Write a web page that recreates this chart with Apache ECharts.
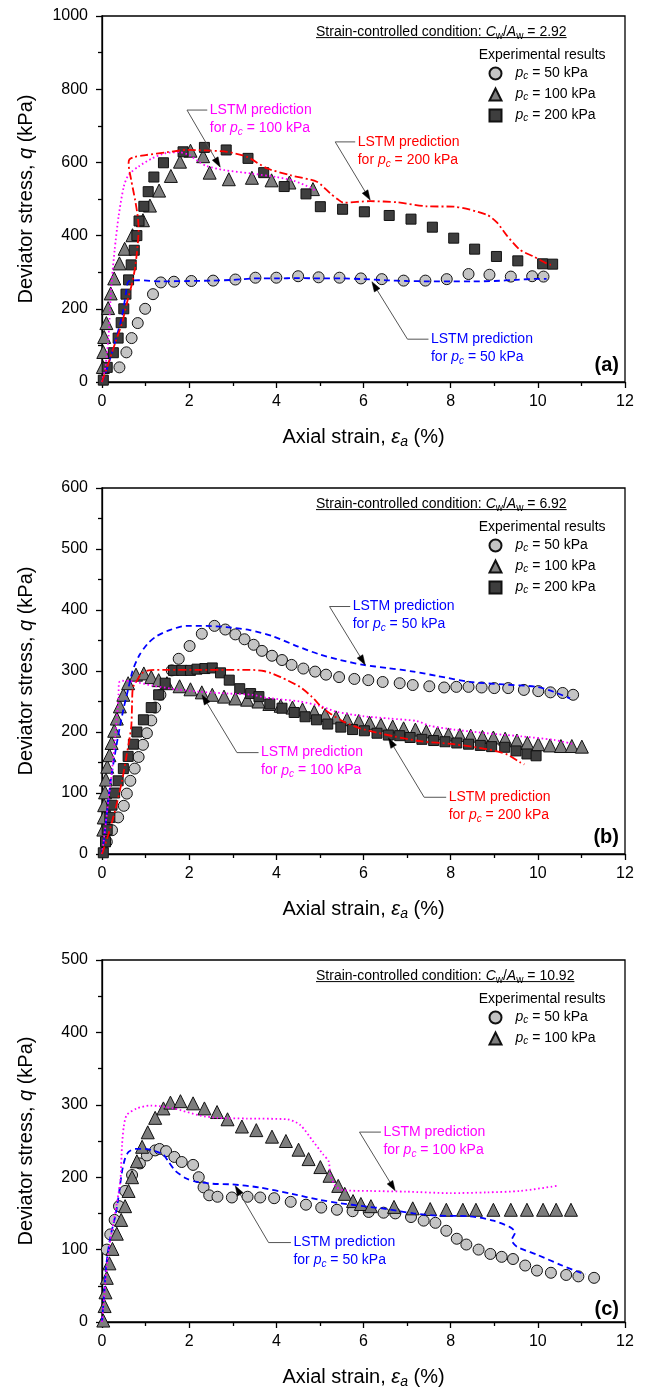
<!DOCTYPE html>
<html>
<head>
<meta charset="utf-8">
<script src="https://cdn.jsdelivr.net/npm/echarts@6/dist/echarts.min.js"></script>
<style>
  html, body { margin: 0; padding: 0; background: #fff; }
  #chart { width: 646px; height: 1390px; }
</style>
</head>
<body>
<div id="chart"></div>
<script>
// ---------------- Data: axial strain (%) vs deviator stress (kPa) ----------------
const strainRange = [0, 12, 2];
const stressRanges = [[0, 1000, 200], [0, 600, 100], [0, 500, 100]];
const ratioLabels = ['2.92', '6.92', '10.92'];
const panelTags = ['(a)', '(b)', '(c)'];

// (a) Cw/Aw = 2.92
const aExp50 = [[0.40,40],[0.56,81],[0.68,120],[0.82,161],[0.99,200],[1.17,240],[1.35,272],[1.65,274],[2.05,276],[2.55,277],[3.06,280],[3.52,285],[4.0,285],[4.5,289],[4.97,286],[5.45,285],[5.94,283],[6.42,281],[6.92,277],[7.42,277],[7.91,281],[8.41,295],[8.89,293],[9.38,288],[9.87,289],[10.13,288]];
const aExp100 = [[0.02,41],[0.03,82],[0.05,123],[0.1,161],[0.14,202],[0.2,242],[0.28,283],[0.4,324],[0.52,364],[0.7,401],[0.94,442],[1.1,482],[1.31,523],[1.58,563],[1.79,602],[2.03,632],[2.32,617],[2.47,572],[2.91,554],[3.44,558],[3.89,551],[4.30,545],[4.84,527]];
const aExp200 = [[0.03,5],[0.12,40],[0.26,80],[0.37,120],[0.44,162],[0.5,200],[0.55,240],[0.61,279],[0.67,320],[0.74,360],[0.8,400],[0.85,440],[0.96,480],[1.06,520],[1.19,560],[1.41,599],[1.86,629],[2.35,641],[2.85,634],[3.35,611],[3.71,572],[4.18,534],[4.68,514],[5.01,479],[5.52,472],[6.02,465],[6.59,455],[7.09,445],[7.58,423],[8.07,393],[8.55,363],[9.05,343],[9.54,331],[10.11,323],[10.34,322]];
const aLstm50 = [[0,0],[0.08,24],[0.27,97],[0.46,179],[0.55,243],[0.61,275],[0.84,278],[1.37,275],[2.0,276],[2.5,277],[3.0,279],[3.5,283],[4.0,283],[4.5,284],[5.0,283],[5.5,283],[6.0,281],[6.5,278],[7.0,276],[7.5,275],[8.0,275],[8.5,275],[9.0,276],[9.5,279],[10.0,282],[10.2,282]];
const aLstm100 = [[0,0],[0.08,43],[0.15,125],[0.19,215],[0.23,285],[0.29,361],[0.38,452],[0.5,534],[0.61,566],[0.84,589],[1.15,611],[1.45,625],[1.76,628],[2.0,620],[2.22,602],[2.4,590],[2.8,579],[3.4,570],[4.0,560],[4.4,550],[4.8,530],[4.9,522]];
const aLstm200 = [[0,0],[0.15,52],[0.3,106],[0.46,161],[0.57,215],[0.69,270],[0.75,306],[0.8,352],[0.84,416],[0.82,452],[0.76,497],[0.67,552],[0.61,597],[0.63,608],[0.75,615],[1.0,620],[1.5,628],[1.95,634],[2.5,632],[2.87,629],[3.33,615],[3.78,584],[4.32,565],[4.93,547],[5.24,515],[5.4,500],[5.54,490],[6.15,494],[6.77,491],[7.45,480],[8.07,479],[8.83,457],[9.06,436],[9.29,400],[9.59,361],[9.9,343],[10.2,324],[10.3,320]];

// (b) Cw/Aw = 6.92
const bExp50 = [[0.11,20],[0.23,39],[0.37,60],[0.5,79],[0.57,99],[0.65,120],[0.75,140],[0.84,159],[0.94,179],[1.03,198],[1.13,219],[1.22,240],[1.34,261],[1.6,301],[1.76,320],[2.01,341],[2.29,361],[2.58,374],[2.83,368],[3.06,360],[3.27,352],[3.48,343],[3.67,333],[3.9,325],[4.13,318],[4.35,310],[4.62,304],[4.89,299],[5.14,294],[5.44,290],[5.79,287],[6.11,285],[6.44,282],[6.83,280],[7.13,277],[7.51,275],[7.85,273],[8.13,274],[8.41,274],[8.71,273],[9.0,272],[9.32,272],[9.68,269],[10.01,267],[10.29,265],[10.57,264],[10.81,261]];
const bExp100 = [[0.03,40],[0.04,60],[0.05,80],[0.07,101],[0.09,122],[0.12,143],[0.17,162],[0.22,182],[0.28,202],[0.34,222],[0.41,242],[0.49,261],[0.6,280],[0.78,294],[0.96,296],[1.13,290],[1.3,285],[1.49,280],[1.78,275],[2.03,270],[2.29,265],[2.53,261],[2.8,258],[3.06,255],[3.33,253],[3.59,250],[3.84,246],[4.1,243],[4.37,240],[4.6,237],[4.87,233],[5.12,228],[5.37,224],[5.62,221],[5.89,218],[6.14,215],[6.4,212],[6.67,209],[6.92,206],[7.19,204],[7.44,201],[7.7,198],[7.95,196],[8.21,195],[8.46,194],[8.73,192],[8.98,191],[9.25,189],[9.52,186],[9.76,182],[10.01,180],[10.28,178],[10.53,177],[10.78,177],[11.01,176]];
const bExp200 = [[0.03,2],[0.08,20],[0.12,40],[0.18,60],[0.23,80],[0.29,100],[0.37,120],[0.49,140],[0.6,160],[0.72,180],[0.8,200],[0.95,220],[1.13,240],[1.3,261],[1.45,280],[1.64,301],[1.83,301],[2.03,301],[2.18,303],[2.36,304],[2.53,305],[2.72,297],[2.92,285],[3.16,271],[3.41,263],[3.6,258],[3.85,246],[4.13,239],[4.41,232],[4.66,225],[4.92,220],[5.18,213],[5.48,208],[5.75,204],[6.02,202],[6.31,198],[6.57,195],[6.83,194],[7.07,191],[7.34,188],[7.61,186],[7.87,184],[8.14,182],[8.41,180],[8.68,178],[8.94,176],[9.24,175],[9.5,169],[9.75,164],[9.96,161]];
const bLstm50 = [[0,0],[0.04,20],[0.1,60],[0.2,120],[0.3,165],[0.4,205],[0.5,240],[0.6,270],[0.7,300],[0.85,325],[1.05,345],[1.25,357],[1.55,367],[1.93,374],[2.39,374],[2.85,372],[3.39,367],[3.92,357],[4.5,340],[5.0,327],[5.47,318],[6.0,310],[6.54,305],[7.15,299],[7.68,292],[8.45,282],[9.21,278],[9.98,274],[10.36,266],[10.74,255]];
const bLstm100 = [[0,0],[0.07,40],[0.15,90],[0.22,130],[0.3,190],[0.36,240],[0.38,262],[0.39,281],[0.46,284],[0.69,283],[1.17,276],[1.7,270],[2.24,266],[2.9,263],[3.44,261],[3.78,256],[4.54,250],[4.99,243],[5.39,233],[5.98,226],[6.6,222],[7.22,218],[7.53,210],[8.07,204],[8.83,198],[9.6,193],[10.37,187],[10.83,180]];
const bLstm200 = [[0,0],[0.15,33],[0.3,71],[0.46,120],[0.57,164],[0.67,208],[0.69,246],[0.71,273],[0.8,284],[0.91,296],[1.07,301],[1.5,302],[2.2,302],[2.8,302],[3.4,302],[3.71,300],[3.86,297],[4.1,290],[4.54,274],[4.81,258],[5.05,240],[5.24,230],[5.54,217],[5.92,206],[6.3,199],[6.69,193],[7.3,185],[8.07,180],[8.83,172],[9.3,163],[9.6,150],[9.69,147]];

// (c) Cw/Aw = 10.92
const cExp50 = [[0.11,100],[0.19,121],[0.29,141],[0.39,160],[0.53,181],[0.69,203],[0.87,219],[1.03,230],[1.22,237],[1.32,239],[1.47,236],[1.66,228],[1.83,221],[2.09,217],[2.22,200],[2.33,186],[2.46,175],[2.65,173],[2.98,172],[3.34,173],[3.63,172],[3.95,171],[4.33,166],[4.68,162],[5.03,158],[5.39,155],[5.75,153],[6.12,152],[6.46,151],[6.73,150],[7.09,145],[7.38,140],[7.65,137],[7.9,126],[8.14,115],[8.36,107],[8.64,100],[8.91,94],[9.17,90],[9.43,87],[9.71,78],[9.98,71],[10.3,68],[10.65,65],[10.93,63],[11.29,61]];
const cExp100 = [[0.03,2],[0.06,22],[0.08,41],[0.11,61],[0.17,81],[0.24,101],[0.34,122],[0.44,141],[0.53,160],[0.61,181],[0.69,200],[0.8,222],[0.92,242],[1.05,262],[1.22,282],[1.41,295],[1.57,303],[1.8,305],[2.09,302],[2.35,295],[2.64,290],[2.88,280],[3.21,270],[3.54,265],[3.9,256],[4.22,250],[4.51,238],[4.74,225],[5.01,214],[5.22,202],[5.42,188],[5.57,177],[5.76,167],[5.94,163],[6.17,160],[6.7,159],[7.13,157],[7.53,156],[7.9,155],[8.28,155],[8.58,155],[8.98,155],[9.38,155],[9.75,155],[10.12,155],[10.42,155],[10.76,155]];
const cLstm50 = [[0,0],[0.05,40],[0.1,80],[0.19,117],[0.3,145],[0.36,165],[0.46,208],[0.53,226],[0.61,235],[0.76,239],[0.99,239],[1.22,236],[1.41,231],[1.53,221],[1.68,209],[1.91,199],[2.14,194],[2.53,191],[2.99,190],[3.6,186],[4.36,177],[4.97,169],[5.47,164],[6.0,160],[6.54,156],[7.15,150],[7.68,147],[8.45,146],[8.98,140],[9.36,131],[9.48,124],[9.4,113],[9.52,104],[9.98,93],[10.52,79],[10.98,68],[11.1,66]];
const cLstm100 = [[0,0],[0.06,40],[0.11,77],[0.19,113],[0.3,150],[0.42,195],[0.46,245],[0.5,270],[0.57,286],[0.8,295],[1.11,299],[1.64,295],[2.26,285],[2.64,282],[3.33,281],[4.25,280],[4.55,272],[4.85,249],[5.08,231],[5.2,222],[5.24,204],[5.35,188],[5.54,182],[6.15,181],[6.99,180],[7.99,178],[8.83,179],[9.6,181],[10.43,188]];

// ---------------- Layout & styles ----------------
const FONT = 'Arial, "Liberation Sans", sans-serif';
const gridTops = [16, 488, 960];
const GRID_LEFT = 102, GRID_RIGHT = 21, GRID_H = 366;
const AXIS_W = 1.3;

const expStyle = {
  c50:  { symbol: 'circle',   size: 11, fill: '#c4c4c4' },
  c100: { symbol: 'triangle', size: 13, fill: '#7d7d7d' },
  c200: { symbol: 'rect',     size: 10, fill: '#3e3e3e' }
};
const lstmStyle = {
  c50:  { color: '#0000ff', dash: [6, 4] },
  c100: { color: '#ff00ff', dash: [1.6, 2.6] },
  c200: { color: '#ff0000', dash: [8, 3, 2, 3] }
};

const sub = (sz, italic) => ({ fontFamily: FONT, fontSize: sz, fontStyle: italic ? 'italic' : 'normal', verticalAlign: 'bottom', lineHeight: sz });

function richSet(size, color, lh) {
  return {
    n: { fontFamily: FONT, fontSize: size, color: color, fill: color, lineHeight: lh },
    i: { fontFamily: FONT, fontSize: size, fontStyle: 'italic', color: color, fill: color, lineHeight: lh },
    s: Object.assign(sub(Math.round(size * 0.7), true), { color: color, fill: color }),
    w: Object.assign(sub(Math.round(size * 0.7), false), { color: color, fill: color }),
    gap: { width: 9, lineHeight: lh }
  };
}

const pcLabel = (v) => '{i|p}{s|c}{n| = ' + v + ' kPa}';

// ---------------- Build option ----------------
const panels = [
  { exp: { c50: aExp50, c100: aExp100, c200: aExp200 }, lstm: { c50: aLstm50, c100: aLstm100, c200: aLstm200 } },
  { exp: { c50: bExp50, c100: bExp100, c200: bExp200 }, lstm: { c50: bLstm50, c100: bLstm100, c200: bLstm200 } },
  { exp: { c50: cExp50, c100: cExp100 },                lstm: { c50: cLstm50, c100: cLstm100 } }
];
const pcValue = { c50: '50', c100: '100', c200: '200' };

const grids = [], xAxes = [], yAxes = [], series = [], legends = [];

panels.forEach((p, g) => {
  grids.push({ left: GRID_LEFT, right: GRID_RIGHT, top: gridTops[g], height: GRID_H,
    show: true, borderColor: '#000', borderWidth: AXIS_W, backgroundColor: 'transparent' });

  xAxes.push({
    type: 'value', gridIndex: g, min: strainRange[0], max: strainRange[1], interval: strainRange[2],
    axisLine: { show: true, onZero: false, lineStyle: { color: '#000', width: AXIS_W } },
    axisTick: { show: true, inside: false, length: 6, lineStyle: { color: '#000', width: AXIS_W } },
    minorTick: { show: true, splitNumber: 2, length: 4, lineStyle: { color: '#000', width: AXIS_W } },
    splitLine: { show: false },
    axisLabel: { fontFamily: FONT, fontSize: 16, color: '#000', margin: 12, formatter: (v) => String(v) },
    name: '{n|Axial strain, }{i|ε}{s|a}{n| (%)}', nameLocation: 'middle', nameGap: 43,
    nameTextStyle: { fontFamily: FONT, fontSize: 20, color: '#000', rich: richSet(20, '#000', 24) }
  });

  const yr = stressRanges[g];
  yAxes.push({
    type: 'value', gridIndex: g, min: yr[0], max: yr[1], interval: yr[2],
    axisLine: { show: true, onZero: false, lineStyle: { color: '#000', width: AXIS_W } },
    axisTick: { show: true, inside: false, length: 6, lineStyle: { color: '#000', width: AXIS_W } },
    minorTick: { show: true, splitNumber: 2, length: 4, lineStyle: { color: '#000', width: AXIS_W } },
    splitLine: { show: false },
    axisLabel: { fontFamily: FONT, fontSize: 16, color: '#000', margin: 14, formatter: (v) => String(v) },
    name: '{n|Deviator stress, }{i|q}{n| (kPa)}', nameLocation: 'middle', nameGap: 64,
    nameTextStyle: { fontFamily: FONT, fontSize: 20, color: '#000', rich: richSet(20, '#000', 24) }
  });

  const legendNames = [];
  Object.keys(p.exp).forEach((k) => {
    const st = expStyle[k];
    const name = panelTags[g] + ' ' + k;
    legendNames.push(name);
    series.push({
      name: name, type: 'scatter', xAxisIndex: g, yAxisIndex: g, data: p.exp[k],
      symbol: st.symbol, symbolSize: st.size, z: 3,
      itemStyle: { color: st.fill, borderColor: '#111', borderWidth: 1, opacity: 1 },
      emphasis: { disabled: true }, silent: true
    });
  });
  Object.keys(p.lstm).forEach((k) => {
    const st = lstmStyle[k];
    series.push({
      name: panelTags[g] + ' LSTM ' + k, type: 'line', xAxisIndex: g, yAxisIndex: g, data: p.lstm[k],
      showSymbol: false, symbol: 'none', smooth: 0.25, z: 5, silent: true,
      lineStyle: { color: st.color, width: 1.8, type: st.dash, cap: 'butt' },
      emphasis: { disabled: true }
    });
  });

  legends.push({
    data: legendNames, orient: 'vertical', left: 488.5, top: gridTops[g] + 49.5,
    padding: 0, itemGap: 5, itemWidth: 12, itemHeight: 12, selectedMode: false, symbolKeepAspect: true,
    formatter: (nm) => '{gap|}' + pcLabel(pcValue[nm.split(' ')[1]]),
    textStyle: { fontFamily: FONT, fontSize: 14, color: '#000', lineHeight: 16, rich: richSet(14, '#000', 16) }
  });
});

const chart = echarts.init(document.getElementById('chart'), null, { renderer: 'canvas' });
chart.setOption({
  animation: false,
  backgroundColor: '#fff',
  grid: grids, xAxis: xAxes, yAxis: yAxes, series: series, legend: legends
});

// ---------------- Text annotations & leader arrows ----------------
const measureCtx = document.createElement('canvas').getContext('2d');
function textW(str, size, italic) {
  measureCtx.font = (italic ? 'italic ' : '') + size + 'px ' + FONT;
  return measureCtx.measureText(str).width;
}

// leader geometry for each LSTM label, in data units of its panel
const notes = [
  { g: 0, k: 'c100', hook: [2.415, 743], elbow: [1.95, 743], tip: [2.713, 587] },
  { g: 0, k: 'c200', hook: [5.81, 656], elbow: [5.351, 656], tip: [6.154, 497] },
  { g: 0, k: 'c50',  hook: [7.491, 117], elbow: [7.009, 117], tip: [6.193, 274] },
  { g: 1, k: 'c50',  hook: [5.695, 405.7], elbow: [5.22, 405.7], tip: [6.039, 310] },
  { g: 1, k: 'c100', hook: [3.592, 166.2], elbow: [3.096, 166.2], tip: [2.294, 261] },
  { g: 1, k: 'c200', hook: [7.897, 93], elbow: [7.392, 93], tip: [6.573, 190] },
  { g: 2, k: 'c100', hook: [6.399, 262.3], elbow: [5.908, 262.3], tip: [6.727, 181.3] },
  { g: 2, k: 'c50',  hook: [4.335, 109.7], elbow: [3.821, 109.7], tip: [3.057, 188.1] }
];

const graphics = [];
const px = (g, pt) => chart.convertToPixel({ gridIndex: g }, pt);

notes.forEach((n) => {
  const H = px(n.g, n.hook), E = px(n.g, n.elbow), T = px(n.g, n.tip);
  const dx = T[0] - E[0], dy = T[1] - E[1], L = Math.hypot(dx, dy);
  const ux = dx / L, uy = dy / L, al = 10, aw = 3.3;
  const bx = T[0] - ux * al, by = T[1] - uy * al;
  graphics.push({ type: 'polyline', silent: true, z: 20,
    shape: { points: [H, E, [bx, by]] }, style: { stroke: '#555', lineWidth: 1, fill: null } });
  graphics.push({ type: 'polygon', silent: true, z: 21,
    shape: { points: [T, [bx - uy * aw, by + ux * aw], [bx + uy * aw, by - ux * aw]] },
    style: { fill: '#000', stroke: '#000', lineWidth: 0.5 } });
  const col = lstmStyle[n.k].color;
  graphics.push({ type: 'text', silent: true, z: 22, x: H[0] + 2.5, y: H[1] - 9,
    style: { text: '{n|LSTM prediction}\n{n|for }' + pcLabel(pcValue[n.k]),
      rich: richSet(14, col, 18), fill: col, font: '14px ' + FONT, align: 'left', verticalAlign: 'top' } });
});

gridTops.forEach((top, g) => {
  // panel heading with underline
  const headY = top + 16;
  const parts = [['Strain-controlled condition: ', 14, false], ['C', 14, true], ['w', 10, false], ['/', 14, false],
                 ['A', 14, true], ['w', 10, false], [' = ' + ratioLabels[g], 14, false]];
  const headW = parts.reduce((s, p) => s + textW(p[0], p[1], p[2]), 0);
  graphics.push({ type: 'text', silent: true, x: 316, y: headY,
    style: { text: '{n|Strain-controlled condition: }{i|C}{w|w}{n|/}{i|A}{w|w}{n| = ' + ratioLabels[g] + '}',
      rich: richSet(14, '#000', 18), fill: '#000', font: '14px ' + FONT, align: 'left', verticalAlign: 'middle' } });
  graphics.push({ type: 'line', silent: true,
    shape: { x1: 316, y1: headY + 5.6, x2: 316 + headW, y2: headY + 5.6 },
    style: { stroke: '#000', lineWidth: 1 } });
  // legend heading
  graphics.push({ type: 'text', silent: true, x: 478.7, y: top + 39.5,
    style: { text: 'Experimental results', fill: '#000', font: '14px ' + FONT, align: 'left', verticalAlign: 'middle' } });
  // panel tag
  graphics.push({ type: 'text', silent: true, x: 619, y: top + GRID_H - 17,
    style: { text: panelTags[g], fill: '#000', font: 'bold 20px ' + FONT, align: 'right', verticalAlign: 'middle' } });
});

chart.setOption({ graphic: graphics });
</script>
</body>
</html>
